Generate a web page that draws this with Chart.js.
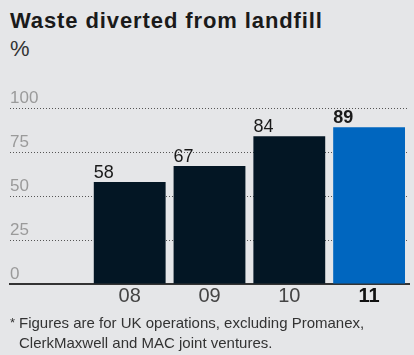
<!DOCTYPE html>
<html>
<head>
<meta charset="utf-8">
<script src="https://cdn.jsdelivr.net/npm/chart.js@4"></script>
<style>
  html, body { margin: 0; padding: 0; }
  body {
    width: 414px; height: 355px; position: relative; overflow: hidden;
    background: #e5e6e8; font-family: "Liberation Sans", Arial, sans-serif; color: #222;
  }
  #chart { position: absolute; left: 0; top: 0; }
  .title { position: absolute; left: 10px; top: 10px; font-size: 22px; font-weight: bold; line-height: 21px; letter-spacing: 0.9px; color: #1a1a1a; white-space: nowrap; }
  .unit { position: absolute; left: 10px; top: 38px; font-size: 22px; line-height: 22px; color: #333; }
  .star { position: absolute; left: 10px; top: 313px; font-size: 13px; line-height: 20px; color: #333; }
  .note { position: absolute; left: 19px; top: 313px; width: 385px; font-size: 15px; line-height: 20px; color: #333; }
</style>
</head>
<body>
<div class="title">Waste diverted from landfill</div>
<div class="unit">%</div>
<canvas id="chart" width="414" height="355"></canvas>
<div class="star">*</div>
<div class="note">Figures are for UK operations, excluding Promanex, ClerkMaxwell and MAC joint ventures.</div>

<script>
// one empty slot on the left keeps the bars clear of the y labels
const years = ['', '08', '09', '10', '11'];
const diverted = [null, 58, 67, 84, 89];
const yTicks = [0, 25, 50, 75, 100];

const NAVY = '#031624';
const BLUE = '#0066bf';
const lastIdx = years.length - 1;

const valueLabels = {
    id: 'valueLabels',
    afterDatasetsDraw(chart) {
        const ctx = chart.ctx;
        const meta = chart.getDatasetMeta(0);
        ctx.save();
        ctx.textAlign = 'left';
        ctx.textBaseline = 'alphabetic';
        ctx.fillStyle = '#1a1a1a';
        meta.data.forEach((bar, i) => {
            const v = diverted[i];
            if (v == null) return;
            ctx.font = (i === lastIdx ? 'bold ' : '') + '18px "Liberation Sans", Arial, sans-serif';
            ctx.fillText(String(v), bar.x - bar.width / 2, bar.y - 4);
        });
        ctx.restore();
    }
};

new Chart(document.getElementById('chart'), {
    type: 'bar',
    data: {
        labels: years,
        datasets: [{
            data: diverted,
            backgroundColor: years.map((y, i) => i === lastIdx ? BLUE : NAVY),
            borderWidth: 0,
            categoryPercentage: 0.9,
            barPercentage: 1
        }]
    },
    options: {
        responsive: false,
        animation: false,
        layout: { padding: { left: 10, right: 5, top: 108, bottom: 47 } },
        plugins: { legend: { display: false }, tooltip: { enabled: false } },
        scales: {
            x: {
                grid: { display: false, drawTicks: false },
                border: { display: true, color: '#333', width: 2 },
                ticks: {
                    padding: 0,
                    color: ctx => ctx.index === lastIdx ? '#111' : '#444',
                    font: ctx => ({
                        family: '"Liberation Sans", Arial, sans-serif',
                        size: 20,
                        weight: ctx.index === lastIdx ? 'bold' : 'normal'
                    })
                }
            },
            y: {
                min: 0,
                max: 100,
                afterBuildTicks: scale => { scale.ticks = yTicks.map(v => ({ value: v })); },
                grid: { color: '#555', lineWidth: 1, drawTicks: false },
                border: { display: false, dash: [1, 2] },
                ticks: {
                    mirror: true,
                    padding: 0,
                    labelOffset: -10,
                    color: '#9a9a9a',
                    font: { family: '"Liberation Sans", Arial, sans-serif', size: 17 }
                }
            }
        }
    },
    plugins: [valueLabels]
});
</script>
</body>
</html>
